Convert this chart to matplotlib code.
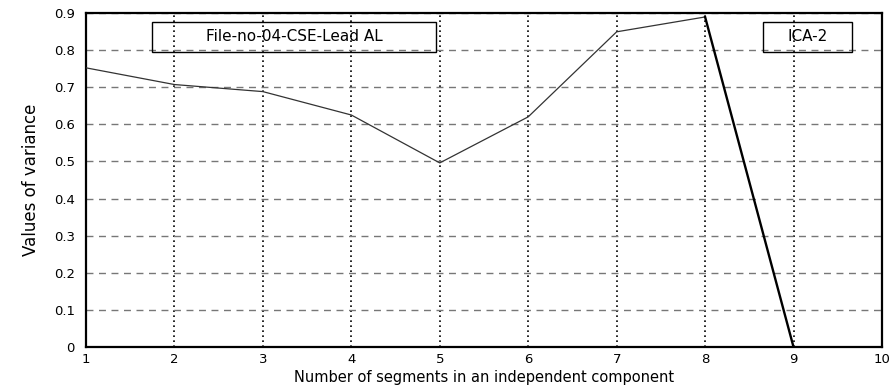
import matplotlib
matplotlib.use("Agg")
import matplotlib.pyplot as plt
from matplotlib.patches import Rectangle

# values
segments = [1, 2, 3, 4, 5, 6, 7, 8, 9]
variance = [0.752, 0.707, 0.688, 0.625, 0.496, 0.620, 0.849, 0.889, 0.0]
xticks = [1, 2, 3, 4, 5, 6, 7, 8, 9, 10]
yticks = [0, 0.1, 0.2, 0.3, 0.4, 0.5, 0.6, 0.7, 0.8, 0.9]
ytick_labels = ["0", "0.1", "0.2", "0.3", "0.4", "0.5", "0.6", "0.7", "0.8", "0.9"]
file_label = "File-no-04-CSE-Lead AL"
ica_label = "ICA-2"

plt.rcParams['font.family'] = ['DejaVu Sans']

fig = plt.figure(figsize=(8.9, 3.9), dpi=100)
ax = fig.add_axes([0.0966, 0.110, 0.8944, 0.857])

# grid: vertical dotted black, horizontal dashed gray
for xv in xticks[1:-1]:
    ax.axvline(xv, color='black', ls=(0, (1.0, 2.0)), lw=1.2, zorder=1)
for yv in yticks[1:]:
    ax.axhline(yv, color='#777777', ls=(0, (5, 4)), lw=1.0, zorder=1)

ax.plot(segments[:8], variance[:8], color='#333333', lw=0.9, zorder=3)
ax.plot(segments[7:], variance[7:], color='black', lw=1.7, zorder=3)

ax.set_xlim(1, 10)
ax.set_ylim(0, 0.9)
ax.set_xticks(xticks)
ax.set_xticklabels([str(t) for t in xticks], fontsize=9.5)
ax.set_yticks(yticks)
ax.set_yticklabels(ytick_labels, fontsize=9.5)
ax.tick_params(axis='y', length=0, pad=8)
ax.tick_params(axis='x', length=0, pad=4)
for s in ax.spines.values():
    s.set_linewidth(1.6)
    s.set_color('black')

ax.set_ylabel("Values of variance", fontsize=12, labelpad=10)
ax.set_xlabel("Number of segments in an independent component", fontsize=10.5, labelpad=3)

# annotation boxes
ax.add_patch(Rectangle((0.083, 0.883), 0.357, 0.090, transform=ax.transAxes,
                       fill=False, edgecolor='black', lw=1.0, zorder=4))
ax.text(0.2615, 0.928, file_label, transform=ax.transAxes, ha='center', va='center',
        fontsize=11, zorder=5)
ax.add_patch(Rectangle((0.850, 0.883), 0.112, 0.090, transform=ax.transAxes,
                       fill=False, edgecolor='black', lw=1.0, zorder=4))
ax.text(0.906, 0.928, ica_label, transform=ax.transAxes, ha='center', va='center',
        fontsize=11, zorder=5)

fig.savefig("out.png", dpi=100)
